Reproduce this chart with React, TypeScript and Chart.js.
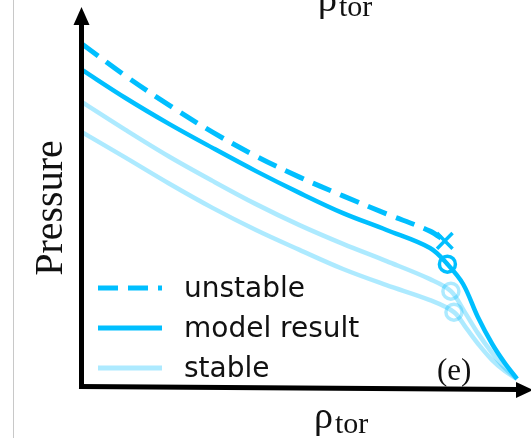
import React, { useEffect, useRef } from "react";
import { Chart, registerables } from "chart.js";

Chart.register(...registerables);

// ρ_tor (normalised) and pressure (normalised)
const unstableRho = [0, 0.1, 0.2, 0.3, 0.4, 0.5, 0.6, 0.7, 0.8, 0.834];
const unstableP = [0.904, 0.819, 0.741, 0.669, 0.605, 0.549, 0.499, 0.451, 0.405, 0.379];

const modelRho = [0, 0.1, 0.2, 0.3, 0.4, 0.5, 0.6, 0.7, 0.8, 0.84, 0.876, 0.91, 0.943, 0.972, 1.0];
const modelP = [0.835, 0.76, 0.691, 0.627, 0.565, 0.507, 0.453, 0.408, 0.36, 0.317, 0.264, 0.176, 0.104, 0.053, 0.011];

const stable1Rho = [0, 0.1, 0.2, 0.3, 0.4, 0.5, 0.6, 0.7, 0.8, 0.848, 0.88, 0.91, 0.943, 0.972, 1.0];
const stable1P = [0.749, 0.675, 0.604, 0.539, 0.477, 0.421, 0.371, 0.325, 0.277, 0.245, 0.189, 0.133, 0.08, 0.04, 0.011];

const stable2Rho = [0, 0.1, 0.2, 0.3, 0.4, 0.5, 0.6, 0.7, 0.8, 0.855, 0.883, 0.913, 0.943, 0.972, 1.0];
const stable2P = [0.669, 0.601, 0.532, 0.467, 0.408, 0.355, 0.304, 0.261, 0.221, 0.189, 0.147, 0.101, 0.061, 0.032, 0.011];

// markers: [rho, p]
const unstableMark = [0.834, 0.379];
const modelMark = [0.84, 0.317];
const stable1Mark = [0.848, 0.245];
const stable2Mark = [0.855, 0.189];

const legendLabels = ["unstable", "model result", "stable"];
const axisLabelMain = "ρ";
const axisLabelSub = "tor";
const yLabel = "Pressure";
const panelTag = "(e)";

const BLUE = "#00BFFF";
const LIGHT = "rgba(0,191,255,0.32)";

const toPts = (xs: number[], ys: number[]) => xs.map((x, i) => ({ x, y: ys[i] }));

const decorPlugin = {
  id: "decor",
  afterDraw(chart: any) {
    const ctx = chart.ctx as CanvasRenderingContext2D;
    ctx.save();
    // left gray frame line
    ctx.strokeStyle = "#c8c8c8";
    ctx.lineWidth = 1;
    ctx.beginPath();
    ctx.moveTo(13.5, 0);
    ctx.lineTo(13.5, 438);
    ctx.stroke();

    // axes
    ctx.strokeStyle = "#000";
    ctx.fillStyle = "#000";
    ctx.lineWidth = 5;
    ctx.lineCap = "butt";
    ctx.beginPath();
    ctx.moveTo(81.5, 389);
    ctx.lineTo(81.5, 22);
    ctx.stroke();
    ctx.beginPath();
    ctx.moveTo(73.5, 25);
    ctx.lineTo(81.5, 7);
    ctx.lineTo(89.5, 25);
    ctx.closePath();
    ctx.fill();

    ctx.beginPath();
    ctx.moveTo(79, 386.5);
    ctx.lineTo(519, 389.5);
    ctx.stroke();
    ctx.beginPath();
    ctx.moveTo(516, 382);
    ctx.lineTo(533, 390);
    ctx.lineTo(516, 398);
    ctx.closePath();
    ctx.fill();

    // axis labels
    ctx.fillStyle = "#111";
    ctx.textBaseline = "alphabetic";
    ctx.textAlign = "left";
    const drawRho = (x: number, yb: number) => {
      ctx.font = '38px "Liberation Serif"';
      ctx.fillText(axisLabelMain, x, yb);
      const w = ctx.measureText(axisLabelMain).width;
      ctx.font = '30px "Liberation Serif"';
      ctx.fillText(axisLabelSub, x + w + 2, yb + 5);
    };
    drawRho(314, 428);
    drawRho(318, 11);

    ctx.save();
    ctx.translate(62, 208);
    ctx.rotate(-Math.PI / 2);
    ctx.textAlign = "center";
    ctx.font = '40px "Liberation Serif"';
    ctx.fillText(yLabel, 0, 0);
    ctx.restore();

    ctx.font = '31px "Liberation Serif"';
    ctx.fillText(panelTag, 437, 380);

    // legend
    const rows = [288, 328, 368];
    const styles = [
      { c: BLUE, dash: [20, 10] },
      { c: BLUE, dash: [] },
      { c: LIGHT, dash: [] },
    ];
    rows.forEach((y, i) => {
      ctx.strokeStyle = styles[i].c;
      ctx.lineWidth = 5;
      ctx.setLineDash(styles[i].dash);
      ctx.beginPath();
      ctx.moveTo(98, y);
      ctx.lineTo(162, y);
      ctx.stroke();
      ctx.setLineDash([]);
      ctx.fillStyle = "#111";
      ctx.font = '28px "DejaVu Sans"';
      ctx.textAlign = "left";
      ctx.fillText(legendLabels[i], 184, y + 9);
    });
    ctx.restore();
  },
};

export default function App() {
  const ref = useRef<HTMLCanvasElement>(null);
  useEffect(() => {
    if (!ref.current) return;
    const lineDs = (data: any, color: string, width: number, dash: number[], order: number) => ({
      data,
      borderColor: color,
      borderWidth: width,
      borderDash: dash,
      pointRadius: 0,
      tension: 0.35,
      fill: false,
      order,
    });
    const markDs = (m: number[], style: string, color: string, r: number, order: number) => ({
      data: [{ x: m[0], y: m[1] }],
      showLine: false,
      pointStyle: style,
      pointRadius: r,
      pointBorderWidth: 3.5,
      pointBorderColor: color,
      pointBackgroundColor: "rgba(0,0,0,0)",
      borderColor: color,
      order,
    });
    const chart = new Chart(ref.current, {
      type: "line",
      data: {
        datasets: [
          lineDs(toPts(unstableRho, unstableP), BLUE, 5, [20, 10], 1),
          lineDs(toPts(modelRho, modelP), BLUE, 4.5, [], 2),
          lineDs(toPts(stable1Rho, stable1P), LIGHT, 4.5, [], 4),
          lineDs(toPts(stable2Rho, stable2P), LIGHT, 4.5, [], 5),
          markDs(unstableMark, "crossRot", BLUE, 11, 0),
          markDs(modelMark, "circle", BLUE, 8, 0),
          markDs(stable1Mark, "circle", LIGHT, 8, 3),
          markDs(stable2Mark, "circle", LIGHT, 8, 3),
        ] as any,
      },
      options: {
        animation: false,
        responsive: false,
        devicePixelRatio: 1,
        layout: { autoPadding: false, padding: { left: 82, right: 0, top: 8, bottom: 55 } },
        plugins: { legend: { display: false }, tooltip: { enabled: false } },
        scales: {
          x: { type: "linear", min: 0, max: 449 / 435, display: false },
          y: { type: "linear", min: 0, max: 1, display: false },
        },
      },
      plugins: [decorPlugin],
    });
    return () => chart.destroy();
  }, []);
  return (
    <div style={{ position: "fixed", left: 0, top: 0, width: 531, height: 438, background: "#fff" }}>
      <canvas ref={ref} width={531} height={438} style={{ display: "block" }} />
    </div>
  );
}
